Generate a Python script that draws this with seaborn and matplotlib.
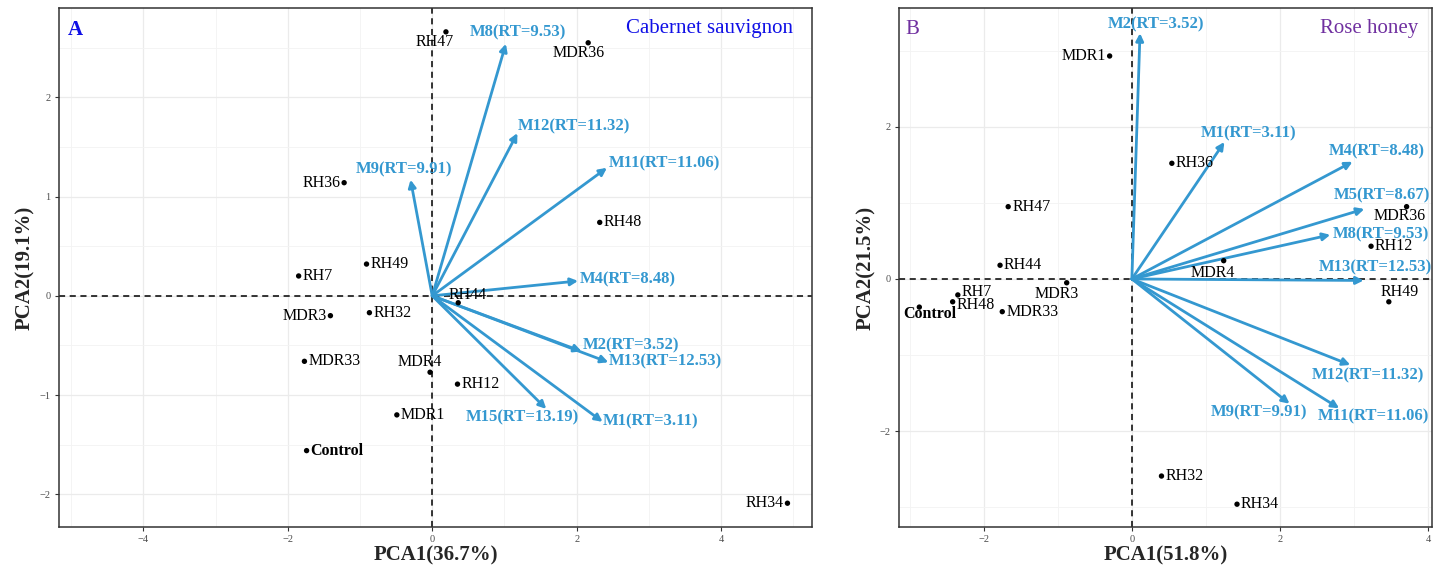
import numpy as np
import pandas as pd
import matplotlib
matplotlib.use("Agg")
import matplotlib.pyplot as plt
import seaborn as sns
from matplotlib.ticker import MultipleLocator

# ---------------- data ----------------
# Panel A (Cabernet sauvignon)
a_samples = ["RH47", "MDR36", "RH36", "RH49", "RH7", "RH48", "RH44", "MDR3", "RH32",
             "MDR33", "MDR4", "RH12", "MDR1", "Control", "RH34"]
a_pc1 = [0.19, 2.16, -1.22, -0.91, -1.85, 2.32, 0.36, -1.41, -0.87,
         -1.77, -0.03, 0.35, -0.49, -1.74, 4.92]
a_pc2 = [2.66, 2.55, 1.14, 0.32, 0.20, 0.74, -0.07, -0.20, -0.17,
         -0.66, -0.77, -0.89, -1.20, -1.56, -2.09]
a_vars = ["M8(RT=9.53)", "M12(RT=11.32)", "M11(RT=11.06)", "M9(RT=9.91)", "M4(RT=8.48)",
          "M2(RT=3.52)", "M13(RT=12.53)", "M15(RT=13.19)", "M1(RT=3.11)"]
a_load1 = [1.02, 1.18, 2.42, -0.30, 2.02, 2.07, 2.44, 1.58, 2.36]
a_load2 = [2.54, 1.64, 1.29, 1.17, 0.15, -0.56, -0.67, -1.14, -1.27]

# Panel B (Rose honey)
b_samples = ["MDR1", "RH47", "RH44", "RH7", "RH48", "Control", "MDR33", "MDR3", "RH36",
             "MDR36", "RH12", "MDR4", "RH49", "RH32", "RH34"]
b_pc1 = [-0.30, -1.67, -1.78, -2.35, -2.42, -2.87, -1.75, -0.88, 0.54,
         3.71, 3.23, 1.24, 3.47, 0.40, 1.42]
b_pc2 = [2.93, 0.95, 0.18, -0.21, -0.30, -0.37, -0.43, -0.05, 1.52,
         0.95, 0.43, 0.24, -0.30, -2.59, -2.96]
b_vars = ["M2(RT=3.52)", "M1(RT=3.11)", "M4(RT=8.48)", "M5(RT=8.67)", "M8(RT=9.53)",
          "M13(RT=12.53)", "M12(RT=11.32)", "M9(RT=9.91)", "M11(RT=11.06)"]
b_load1 = [0.11, 1.25, 2.98, 3.14, 2.68, 3.13, 2.95, 2.13, 2.80]
b_load2 = [3.23, 1.80, 1.54, 0.92, 0.58, -0.02, -1.13, -1.64, -1.70]

a_xlabel, a_ylabel = "PCA1(36.7%)", "PCA2(19.1%)"
b_xlabel, b_ylabel = "PCA1(51.8%)", "PCA2(21.5%)"

# ---------------- label layout (offsets in pixels) ----------------
R = ("left", 4, 0)
L = ("right", -4, 0)
a_sample_lab = {"RH47": ("center", -11, -10), "MDR36": ("center", -10, -10), "RH36": L,
                "RH49": R, "RH7": R, "RH48": R, "RH44": ("center", 10, 8), "MDR3": L,
                "RH32": R, "MDR33": R, "MDR4": ("center", -10, 10), "RH12": R,
                "MDR1": R, "Control": R, "RH34": L}
a_var_lab = {"M8(RT=9.53)": ("center", 12, 11), "M12(RT=11.32)": ("left", 0, 7),
             "M11(RT=11.06)": ("left", 2, 4), "M9(RT=9.91)": ("center", -7, 10),
             "M4(RT=8.48)": ("left", 2, 2), "M2(RT=3.52)": ("left", 1, 6),
             "M13(RT=12.53)": ("left", 0, 1), "M15(RT=13.19)": ("center", -24, -8),
             "M1(RT=3.11)": ("left", 0, 0)}
b_sample_lab = {"MDR1": L, "RH47": R, "RH44": R, "RH7": ("left", 4, 3), "RH48": ("left", 4, -3),
                "Control": ("center", 10, -7), "MDR33": R, "MDR3": ("center", -10, -11),
                "RH36": R, "MDR36": ("center", -7, -9), "RH12": R,
                "MDR4": ("center", -11, -12), "RH49": ("center", 11, 10), "RH32": R, "RH34": R}
b_var_lab = {"M2(RT=3.52)": ("center", 16, 9), "M1(RT=3.11)": ("center", 24, 9),
             "M4(RT=8.48)": ("center", 24, 10), "M5(RT=8.67)": ("center", 18, 14),
             "M8(RT=9.53)": ("left", 2, 0), "M13(RT=12.53)": ("center", 12, 13),
             "M12(RT=11.32)": ("center", 18, -10), "M9(RT=9.91)": ("center", -31, -9),
             "M11(RT=11.06)": ("center", 34, -8)}

# ---------------- style ----------------
sns.set_style("ticks")
plt.rcParams["font.family"] = ["Liberation Serif", "DejaVu Serif"]
plt.rcParams["mathtext.default"] = "regular"

ARROW = "#3498D0"
fig = plt.figure(figsize=(14.41, 5.67), dpi=100)
axA = fig.add_axes([0.0409, 0.0705, 0.5226, 0.9153])
axB = fig.add_axes([0.6241, 0.0705, 0.3695, 0.9153])


def draw(ax, samples, pc1, pc2, vars_, l1, l2, slab, vlab, xlim, ylim,
         xmaj, ymaj, xlabel, ylabel, tag, tag_color, tag_bold, title):
    df = pd.DataFrame({"PC1": pc1, "PC2": pc2, "name": samples})
    ax.axhline(0, color="black", ls=(0, (4, 3)), lw=1.1, zorder=1)
    ax.axvline(0, color="black", ls=(0, (4, 3)), lw=1.1, zorder=1)
    sns.scatterplot(data=df, x="PC1", y="PC2", ax=ax, color="black", s=15,
                    edgecolor="none", zorder=4, legend=False)
    for n, x, y in zip(samples, pc1, pc2):
        ha, dx, dy = slab[n]
        ax.annotate(n, xy=(x, y), xytext=(dx, dy), textcoords="offset pixels",
                    ha=ha, va="center", fontsize=11.5, color="black",
                    fontweight="bold" if n == "Control" else "normal", zorder=5)
    for v, x, y in zip(vars_, l1, l2):
        ax.annotate("", xy=(x, y), xytext=(0, 0),
                    arrowprops=dict(arrowstyle="-|>", color=ARROW, lw=2.0,
                                    mutation_scale=11, shrinkA=0, shrinkB=0),
                    zorder=3)
        ha, dx, dy = vlab[v]
        ax.annotate(v, xy=(x, y), xytext=(dx, dy), textcoords="offset pixels",
                    ha=ha, va="center", fontsize=12, color=ARROW,
                    fontweight="bold", zorder=5)
    ax.set_xlim(*xlim)
    ax.set_ylim(*ylim)
    ax.xaxis.set_major_locator(MultipleLocator(xmaj))
    ax.xaxis.set_minor_locator(MultipleLocator(xmaj / 2))
    ax.yaxis.set_major_locator(MultipleLocator(ymaj))
    ax.yaxis.set_minor_locator(MultipleLocator(ymaj / 2))
    ax.grid(True, which="major", color="#ebebeb", lw=0.9, zorder=0)
    ax.grid(True, which="minor", color="#f3f3f3", lw=0.6, zorder=0)
    ax.set_axisbelow(True)
    ax.tick_params(which="major", length=3, width=0.8, color="#333333",
                   labelsize=7.5, labelcolor="#4d4d4d", pad=3)
    ax.tick_params(which="minor", length=0)
    for s in ax.spines.values():
        s.set_color("#333333")
        s.set_linewidth(1.1)
        s.set_visible(True)
    ax.set_xlabel(xlabel, fontsize=15, fontweight="bold", labelpad=1)
    ax.set_ylabel(ylabel, fontsize=15, fontweight="bold", labelpad=3)
    ax.text(0.012, 0.958, tag, transform=ax.transAxes, ha="left", va="center",
            fontsize=15, color=tag_color, fontweight="bold" if tag_bold else "normal")
    ax.text(0.975, 0.961, title, transform=ax.transAxes, ha="right", va="center",
            fontsize=15, color=tag_color)


draw(axA, a_samples, a_pc1, a_pc2, a_vars, a_load1, a_load2, a_sample_lab, a_var_lab,
     (-5.17, 5.26), (-2.33, 2.9), 2, 1, a_xlabel, a_ylabel, "A", "#1010E6", True,
     "Cabernet sauvignon")
draw(axB, b_samples, b_pc1, b_pc2, b_vars, b_load1, b_load2, b_sample_lab, b_var_lab,
     (-3.14, 4.05), (-3.26, 3.56), 2, 2, b_xlabel, b_ylabel, "B", "#7030A0", False,
     "Rose honey")

fig.savefig("out.png", dpi=100)
